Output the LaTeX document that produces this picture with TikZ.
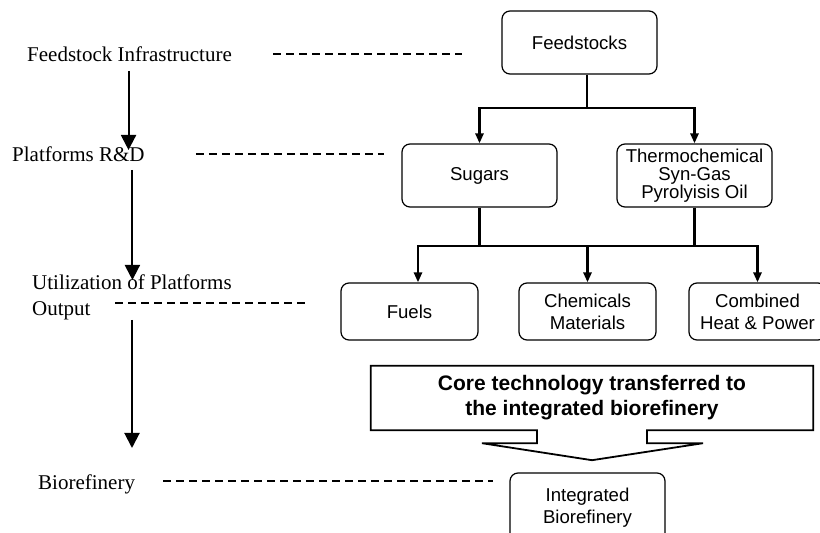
\documentclass[tikz,border=0pt]{standalone}
\usepackage{fontspec}
\setmainfont{Liberation Serif}
\newfontfamily\boxfont{Liberation Sans}
\usetikzlibrary{arrows.meta}
\usetikzlibrary{positioning}

\tikzset{
    stagelabel/.style={inner sep=0pt, font=\fontsize{21}{26}\selectfont},
    stagebox/.style={draw, rounded corners=8pt, line width=1.2pt, inner sep=0pt,
        align=center, minimum width=155pt, minimum height=63pt,
        font=\boxfont\fontsize{18.6}{22}\selectfont},
    outbox/.style={stagebox, minimum width=137pt, minimum height=57pt},
    tree/.style={line width=2.8pt, -{Triangle[length=10pt,width=8pt]}},
    treeline/.style={line width=2.8pt},
    stage/.style={line width=2pt, -{Triangle[length=15pt,width=15pt]}},
    level/.style={line width=1.3pt, dash pattern=on 8pt off 5pt},
}

\begin{document}
\begin{tikzpicture}[x=1pt,y=1pt]
        \useasboundingbox (0,0) rectangle (820,533);
        \clip (0,0) rectangle (820,533);

        % Stage labels
        \node[stagelabel, anchor=west]             (lfeed) at (27,479) {Feedstock Infrastructure};
        \node[stagelabel, anchor=west]             (lplat) at (12,379) {Platforms R\&D};
        \node[stagelabel, anchor=west, align=left] (lutil) at (32,236) {Utilization of Platforms\\Output};
        \node[stagelabel, anchor=west]             (lbio)  at (38,49)  {Biorefinery};

        % Boxes
        \node[stagebox]                 (feed)   at (579.5,490.5) {Feedstocks};
        \node[stagebox]                 (sugars) at (479.5,357.5) {Sugars};
        \node[stagebox, font=\boxfont\fontsize{18.6}{18}\selectfont]
                                        (thermo) at (694.5,357.5) {Thermochemical\\Syn-Gas\\Pyrolyisis Oil};
        \node[outbox]                   (fuels)  at (409.5,221.5) {Fuels};
        \node[outbox]                   (chem)   at (587.5,221.5) {Chemicals\\Materials};
        \node[outbox]                   (chp)    at (757.5,221.5) {Combined\\Heat \& Power};
        \node[inner sep=0pt, minimum width=442pt, minimum height=64pt, align=center,
              font=\boxfont\bfseries\fontsize{21}{25}\selectfont]
                                        (core)   at (592,135) {Core technology transferred to\\the integrated biorefinery};
        \node[stagebox, minimum height=70pt] (integ) at (587.5,25) {Integrated\\Biorefinery};

        % Tree
        \coordinate (j1) at (587,425);
        \coordinate (j2) at (587.5,287);
        \draw[treeline] ([xshift=7.5pt]feed.south) -- (j1);
        \draw[tree] (j1) -| (sugars.north);
        \draw[tree] (j1) -| (thermo.north);
        \draw[treeline] (sugars.south) -- (sugars.south |- j2);
        \draw[treeline] (thermo.south) -- (thermo.south |- j2);
        \draw[tree] (j2) -| ([xshift=8.5pt]fuels.north);
        \draw[tree] (j2) -- (chem.north);
        \draw[tree] (j2) -| (chp.north);

        % Callout arrow
        \draw[line width=1.8pt]
            (core.south west) -- (core.north west) -- (core.north east) -- (core.south east)
            -- ([xshift=55pt]core.south) -- ([shift={(55pt,-13pt)}]core.south)
            -- ([shift={(111pt,-13pt)}]core.south) -- ([yshift=-30pt]core.south)
            -- ([shift={(-110pt,-13pt)}]core.south) -- ([shift={(-55pt,-13pt)}]core.south)
            -- ([xshift=-55pt]core.south) -- cycle;

        % Stages
        \draw[stage] (lfeed.center) ++(-1,-17) -- ++(0,-79);
        \draw[stage] (lplat.center) ++(54,-16) -- ++(0,-110);
        \draw[stage] (lutil.west) ++(100,-23) -- ++(0,-128);

        \draw[level] ([xshift=41pt]lfeed.east) -- ++(189,0);
        \draw[level] ([xshift=51pt]lplat.east) -- ++(188,0);
        \draw[level] ([shift={(83pt,-6pt)}]lutil.west) -- ++(190,0);
        \draw[level] ([shift={(28pt,3pt)}]lbio.east) -- ++(330,0);
    \end{tikzpicture}
\end{document}
